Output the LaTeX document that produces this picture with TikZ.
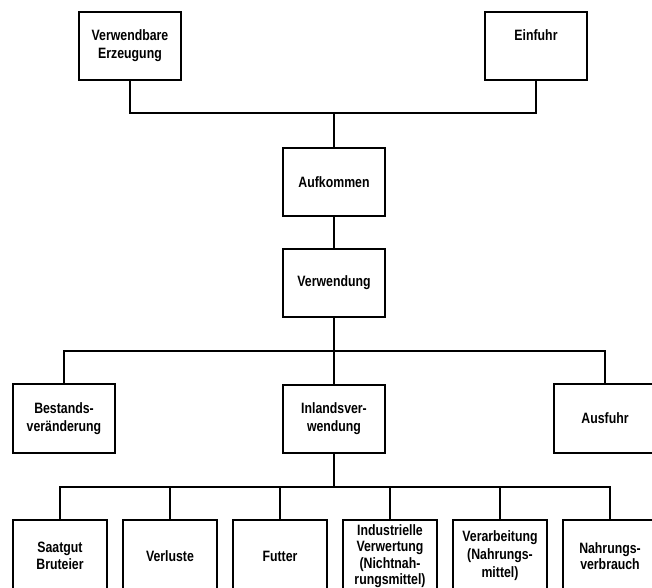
\documentclass[tikz,border=0pt]{standalone}
\usepackage{fontspec}
\setmainfont[FakeStretch=0.82]{Liberation Sans}
\begin{document}
\begin{tikzpicture}[x=1pt,y=-1pt,
  box/.style={draw,line width=1.1pt,inner sep=0pt,minimum width=102pt,minimum height=68pt,
    align=center,font=\fontsize{15}{18}\selectfont\bfseries},
  lowbox/.style={box,minimum width=94pt,minimum height=72pt,font=\fontsize{15}{16.5}\selectfont\bfseries},
  link/.style={line width=1.1pt}]
\useasboundingbox (0,0) rectangle (652,587);
\clip (0,0) rectangle (652,587);
% top level
\node[box] (verw) at (130,46) {Verwendbare\\Erzeugung};
\node[box] (ein) at (536,46) {Einfuhr\\\phantom{Ep}};
\node[box] (auf) at (334,182) {Aufkommen};
\node[box] (vwd) at (334,283) {Verwendung};
% middle level
\node[box,minimum height=69pt] (best) at (64,418.5) {Bestands-\\veränderung};
\node[box] (inl) at (334,419) {Inlandsver-\\wendung};
\node[box,minimum height=69pt] (aus) at (605,418.5) {Ausfuhr};
% bottom level
\node[lowbox] (b1) at (60,556) {Saatgut\\Bruteier};
\node[lowbox] (b2) at (170,556) {Verluste};
\node[lowbox] (b3) at (280,556) {Futter};
\node[lowbox,font=\fontsize{15}{16.3}\selectfont\bfseries] (b4) at (390,556) {Industrielle\\Verwertung\\(Nichtnah-\\rungsmittel)};
\node[lowbox,font=\fontsize{15}{18}\selectfont\bfseries] (b5) at (500,556) {Verarbeitung\\(Nahrungs-\\mittel)};
\node[lowbox] (b6) at (610,556) {Nahrungs-\\verbrauch};
% junctions
\coordinate (j1) at (334,113);
\coordinate (j2) at (334,351);
\coordinate (j3) at (334,487);
% connectors
\draw[link] (verw.south) |- (j1) -| (ein.south);
\draw[link] (j1) -- (auf.north);
\draw[link] (auf.south) -- (vwd.north);
\draw[link] (vwd.south) -- (j2) -- (inl.north);
\draw[link] (best.north) |- (j2) -| (aus.north);
\draw[link] (inl.south) -- (j3);
\draw[link] (b1.north) |- (j3) -| (b6.north);
\draw[link] (b2.north) -- (b2.north |- j3);
\draw[link] (b3.north) -- (b3.north |- j3);
\draw[link] (b4.north) -- (b4.north |- j3);
\draw[link] (b5.north) -- (b5.north |- j3);
\end{tikzpicture}
\end{document}
